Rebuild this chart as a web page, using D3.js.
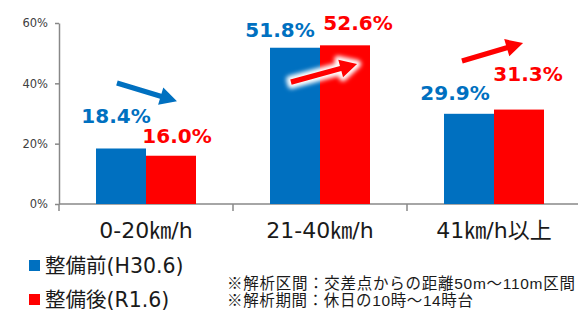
<!DOCTYPE html>
<html>
<head>
<meta charset="utf-8">
<script src="https://cdn.jsdelivr.net/npm/d3@7"></script>
<style>
  body { margin: 0; background: #fff; }
  svg { display: block; }
</style>
</head>
<body>
<div id="chart"></div>
<script>
// Data
const categories = ["0-20㎞/h", "21-40㎞/h", "41㎞/h以上"];
const seriesNames = ["整備前(H30.6)", "整備後(R1.6)"];
const before = [18.4, 51.8, 29.9];
const after = [16.0, 52.6, 31.3];
const yTicks = [0, 20, 40, 60];
const notes = ["※解析区間：交差点からの距離50m～110m区間", "※解析期間：休日の10時～14時台"];

// Trend arrows: [category index, start fraction in band, start %, end fraction, end %]
const arrows = [
  [0, 0.333, 40.1, 0.678, 34.1],
  [1, 0.333, 40.4, 0.713, 46.4],
  [2, 0.316, 47.4, 0.667, 53.4]
];

const colors = ["#0070C0", "#FF0000"];
const arrowColors = ["#0070C0", "#FF0000", "#FF0000"];

// label nudges (dx from bar center, gap above bar top)
const labelOffsets = [
  [[-5, 25], [6, 13]],
  [[-15, 11], [13, 15]],
  [[-14, 14], [9, 29]]
];

const W = 578, H = 313;
const svg = d3.select("#chart").append("svg")
  .attr("width", W)
  .attr("height", H);

const x = d3.scaleBand()
  .domain(categories)
  .range([59, 581])
  .padding(0);

const xs = d3.scaleBand()
  .domain(seriesNames)
  .range([0, x.bandwidth()])
  .paddingInner(0)
  .paddingOuter(0.74);

const y = d3.scaleLinear()
  .domain([0, 60])
  .range([204, 23]);

const numFont = "'DejaVu Sans', 'Noto Sans CJK JP', sans-serif";

// Axes
const yAxis = svg.append("g")
  .attr("transform", `translate(${x.range()[0]},0)`)
  .call(d3.axisLeft(y).tickValues(yTicks).tickFormat(d => d + "%").tickSize(4).tickSizeOuter(0));
yAxis.select(".domain").attr("stroke", "#888").attr("stroke-width", 1.5);
yAxis.selectAll(".tick line").attr("stroke", "#888").attr("stroke-width", 1.5);
yAxis.selectAll(".tick text")
  .attr("x", -11)
  .style("font-family", numFont)
  .style("font-size", "11.5px")
  .attr("fill", "#404040");

// x axis baseline + category ticks
svg.append("line")
  .attr("x1", x.range()[0]).attr("x2", W)
  .attr("y1", y(0)).attr("y2", y(0))
  .attr("stroke", "#888").attr("stroke-width", 1.5);

svg.append("g")
  .selectAll("line")
  .data(categories.concat([null]))
  .join("line")
  .attr("x1", (d, i) => x.range()[0] + i * x.step())
  .attr("x2", (d, i) => x.range()[0] + i * x.step())
  .attr("y1", y(0)).attr("y2", y(0) + 7)
  .attr("stroke", "#888").attr("stroke-width", 1.5);

svg.append("g")
  .selectAll("text")
  .data(categories)
  .join("text")
  .attr("x", d => x(d) + x.bandwidth() / 2)
  .attr("y", 238)
  .attr("text-anchor", "middle")
  .style("font-family", numFont)
  .style("font-size", "22px")
  .attr("fill", "#1a1a1a")
  .text(d => d);

// Bars
const series = [before, after];
const groups = svg.append("g")
  .selectAll("g")
  .data(categories)
  .join("g")
  .attr("transform", d => `translate(${x(d)},0)`);

groups.selectAll("rect")
  .data((d, i) => series.map((s, k) => ({ k, v: s[i], c: i })))
  .join("rect")
  .attr("x", d => xs(seriesNames[d.k]))
  .attr("width", xs.bandwidth())
  .attr("y", d => y(d.v))
  .attr("height", d => y(0) - y(d.v))
  .attr("fill", d => colors[d.k]);

// Value labels
groups.selectAll("text.val")
  .data((d, i) => series.map((s, k) => ({ k, v: s[i], c: i })))
  .join("text")
  .attr("class", "val")
  .attr("x", d => xs(seriesNames[d.k]) + xs.bandwidth() / 2 + labelOffsets[d.c][d.k][0])
  .attr("y", d => y(d.v) - labelOffsets[d.c][d.k][1])
  .attr("text-anchor", "middle")
  .style("font-family", numFont)
  .style("font-size", "20px")
  .style("font-weight", "bold")
  .attr("fill", d => colors[d.k])
  .text(d => d.v.toFixed(1) + "%");

// Arrows
const defs = svg.append("defs");
defs.append("filter").attr("id", "glow")
  .attr("x", "-30%").attr("y", "-50%").attr("width", "160%").attr("height", "200%")
  .append("feGaussianBlur").attr("stdDeviation", 2);

function arrowPath(x1, y1, x2, y2) {
  const dx = x2 - x1, dy = y2 - y1;
  const len = Math.hypot(dx, dy);
  const ux = dx / len, uy = dy / len;
  const nx = -uy, ny = ux;
  const hl = 17, hw = 9, sw = 2.6;
  const bx = x2 - ux * hl, by = y2 - uy * hl;
  const pts = [
    [x1 + nx * sw, y1 + ny * sw],
    [bx + nx * sw, by + ny * sw],
    [bx + nx * hw, by + ny * hw],
    [x2, y2],
    [bx - nx * hw, by - ny * hw],
    [bx - nx * sw, by - ny * sw],
    [x1 - nx * sw, y1 - ny * sw]
  ];
  return d3.line()(pts) + "Z";
}

arrows.forEach((a, i) => {
  const x0 = x(categories[a[0]]);
  const p = arrowPath(
    x0 + a[1] * x.bandwidth(), y(a[2]),
    x0 + a[3] * x.bandwidth(), y(a[4]));
  if (i === 1) {
    svg.append("path")
      .attr("d", p)
      .attr("fill", "#fff")
      .attr("stroke", "#fff")
      .attr("stroke-width", 8)
      .attr("stroke-linejoin", "round")
      .attr("filter", "url(#glow)");
  }
  svg.append("path")
    .attr("d", p)
    .attr("fill", arrowColors[i]);
});

// Legend
const legend = svg.append("g");
seriesNames.forEach((s, i) => {
  const ly = 266 + i * 34;
  legend.append("rect")
    .attr("x", 29).attr("y", ly - 6)
    .attr("width", 11).attr("height", 11)
    .attr("fill", colors[i]);
  legend.append("text")
    .attr("x", 45).attr("y", ly)
    .attr("dominant-baseline", "central")
    .style("font-family", numFont)
    .style("font-size", "20.5px")
    .attr("fill", "#1a1a1a")
    .text(s);
});

// Notes
const noteWidths = [348, 246];
svg.append("g")
  .selectAll("text")
  .data(notes)
  .join("text")
  .attr("x", 227)
  .attr("y", (d, i) => 288.5 + i * 17.5)
  .attr("textLength", (d, i) => noteWidths[i])
  .attr("lengthAdjust", "spacing")
  .style("font-family", "'Liberation Sans', 'Noto Sans CJK JP', sans-serif")
  .style("font-size", "15.5px")
  .attr("fill", "#1a1a1a")
  .text(d => d);
</script>
</body>
</html>
